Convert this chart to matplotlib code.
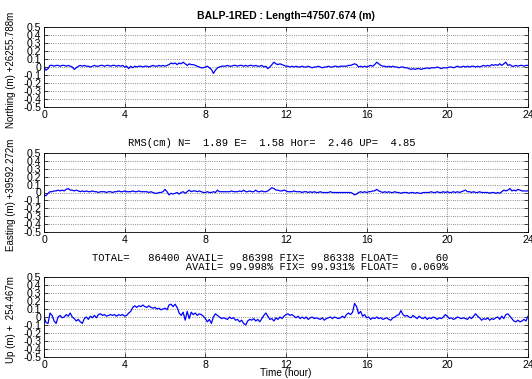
import numpy as np
import matplotlib
matplotlib.use('Agg')
import matplotlib.pyplot as plt

# Baseline solution, 24 h session sampled every 0.1 h (offsets in metres)
north = [
   0.00, -0.04, -0.02, 0.02, 0.02, 0.01, 0.02, 0.02, 0.01, 0.02,
   0.02, 0.01, 0.02, 0.01, 0.00, -0.03, -0.01, 0.01, 0.02, 0.01,
   0.02, 0.01, 0.01, 0.00, 0.01, 0.02, 0.01, 0.01, 0.02, 0.02,
   0.01, 0.02, 0.02, 0.01, 0.02, 0.02, 0.01, 0.02, 0.01, 0.02,
   0.00, 0.01, -0.02, 0.01, -0.01, 0.01, 0.00, 0.01, 0.01, 0.00,
   0.01, 0.01, 0.00, 0.01, 0.02, 0.01, 0.01, 0.02, 0.01, 0.02,
   0.01, 0.02, 0.03, 0.05, 0.04, 0.05, 0.03, 0.05, 0.04, 0.06,
   0.04, 0.02, 0.04, 0.03, 0.03, 0.02, 0.01, 0.00, -0.01, -0.01,
   0.00, 0.01, -0.01, -0.03, -0.08, -0.04, -0.01, 0.00, 0.01, 0.01,
   0.01, 0.02, 0.01, 0.01, 0.02, 0.02, 0.01, 0.02, 0.02, 0.01,
   0.02, 0.01, 0.02, 0.02, 0.01, 0.02, 0.01, 0.01, 0.02, 0.00,
   0.01, -0.02, 0.00, 0.03, 0.06, 0.04, 0.03, 0.04, 0.03, 0.02,
   0.01, 0.01, 0.00, 0.01, 0.00, 0.01, 0.00, 0.00, 0.01, 0.00,
   0.00, 0.01, 0.00, -0.01, 0.00, 0.00, 0.01, 0.00, -0.01, 0.00,
   0.00, 0.01, 0.00, 0.00, 0.01, 0.01, 0.00, 0.01, 0.01, 0.01,
   0.01, 0.02, 0.02, 0.03, 0.04, 0.03, 0.00, 0.01, 0.00, 0.01,
   0.00, 0.01, 0.02, 0.01, 0.03, 0.06, 0.04, 0.02, 0.01, 0.01,
   0.00, 0.01, 0.00, 0.01, 0.00, 0.00, -0.01, 0.00, 0.00, -0.01,
   -0.01, -0.02, -0.03, -0.02, -0.03, -0.02, -0.02, -0.03, -0.02, -0.02,
   -0.01, -0.02, -0.01, -0.01, -0.01, 0.00, -0.01, -0.02, -0.01, -0.01,
   -0.01, 0.00, 0.00, -0.01, 0.00, 0.01, 0.00, 0.00, 0.01, 0.00,
   0.01, 0.00, 0.01, 0.01, 0.00, 0.01, 0.00, 0.01, 0.02, 0.01,
   0.02, 0.01, 0.03, 0.02, 0.03, 0.02, 0.04, 0.02, 0.04, 0.06,
   0.02, 0.03, 0.01, 0.01, 0.02, 0.01, 0.02, 0.02, 0.01, 0.02,
   0.02,
]

east = [
   -0.03, -0.04, -0.01, 0.01, 0.01, 0.02, 0.02, 0.03, 0.02, 0.03,
   0.02, 0.04, 0.05, 0.03, 0.03, 0.02, 0.03, 0.02, 0.01, 0.02,
   0.01, 0.02, 0.01, 0.01, 0.02, 0.01, 0.01, 0.00, 0.01, 0.01,
   0.01, 0.00, 0.01, 0.01, 0.00, 0.01, 0.01, 0.02, 0.01, 0.01,
   0.02, 0.01, 0.01, 0.01, 0.02, 0.01, 0.01, 0.02, 0.01, 0.01,
   0.01, 0.01, 0.00, 0.01, 0.00, -0.01, -0.01, 0.00, 0.00, 0.01,
   0.04, 0.01, -0.03, -0.01, -0.02, -0.01, 0.00, -0.02, 0.00, 0.01,
   -0.01, 0.01, 0.03, 0.01, 0.02, 0.02, 0.01, 0.02, 0.01, 0.00,
   0.00, 0.01, 0.00, 0.00, 0.01, 0.00, 0.03, 0.01, 0.01, 0.01,
   0.01, 0.01, 0.01, 0.02, 0.01, 0.01, 0.01, 0.02, 0.01, 0.03,
   0.01, 0.01, 0.02, 0.01, 0.01, 0.03, 0.01, 0.01, 0.02, 0.01,
   0.01, 0.02, 0.04, 0.06, 0.05, 0.03, 0.03, 0.02, 0.02, 0.03,
   0.02, 0.01, 0.01, 0.01, 0.02, 0.01, 0.01, 0.01, 0.00, 0.01,
   0.01, 0.00, 0.01, 0.00, 0.01, 0.00, 0.00, 0.01, 0.00, 0.00,
   0.00, 0.00, 0.01, 0.00, 0.00, 0.00, 0.00, 0.00, 0.00, 0.00,
   0.00, 0.00, 0.00, -0.01, -0.03, -0.02, 0.00, 0.01, 0.00, 0.01,
   0.00, 0.01, 0.01, 0.02, 0.02, 0.04, 0.02, 0.01, 0.00, 0.01,
   0.00, 0.01, 0.00, 0.00, 0.01, 0.00, 0.00, -0.01, 0.00, 0.00,
   0.00, -0.01, 0.00, 0.00, -0.01, 0.00, -0.01, -0.01, 0.00, 0.00,
   0.00, 0.00, 0.01, 0.00, 0.00, 0.01, 0.00, 0.00, 0.01, 0.00,
   0.01, 0.00, 0.00, 0.01, 0.00, 0.01, 0.00, 0.01, 0.02, 0.03,
   0.01, 0.01, 0.00, 0.01, 0.00, 0.00, 0.01, 0.00, 0.00, 0.00,
   0.00, -0.01, 0.00, 0.00, -0.01, 0.00, -0.01, 0.01, 0.03, 0.02,
   0.03, 0.05, 0.02, 0.03, 0.02, 0.04, 0.03, 0.02, 0.02, 0.02,
   0.02,
]

up = [
   0.00, -0.07, -0.08, 0.05, 0.02, -0.05, -0.08, 0.00, 0.02, -0.01,
   0.00, 0.03, 0.01, 0.05, 0.00, -0.02, -0.05, -0.03, -0.06, -0.08,
   -0.02, 0.00, -0.03, 0.01, -0.01, 0.02, -0.01, 0.03, 0.04, 0.02,
   0.03, 0.01, 0.02, 0.03, 0.02, 0.03, 0.01, 0.03, 0.02, 0.03,
   0.01, 0.02, 0.05, 0.07, 0.12, 0.14, 0.12, 0.14, 0.13, 0.15,
   0.13, 0.12, 0.14, 0.12, 0.11, 0.12, 0.10, 0.11, 0.09, 0.10,
   0.11, 0.09, 0.15, 0.16, 0.13, 0.16, 0.12, 0.05, 0.02, 0.06,
   -0.04, 0.07, -0.02, 0.06, 0.03, 0.05, 0.02, 0.04, 0.03, 0.01,
   -0.02, -0.06, -0.03, -0.08, 0.00, 0.04, 0.02, 0.00, -0.02, -0.01,
   -0.02, -0.03, 0.00, -0.02, -0.01, -0.04, -0.03, -0.06, -0.04, -0.08,
   -0.10, -0.05, -0.03, -0.04, -0.02, -0.05, -0.03, -0.06, -0.02, 0.02,
   0.05, 0.01, -0.03, -0.02, -0.05, -0.01, -0.03, 0.00, -0.02, 0.01,
   0.03, 0.04, 0.02, 0.03, 0.01, -0.01, 0.01, -0.02, 0.00, -0.02,
   0.00, -0.03, -0.01, 0.00, -0.02, -0.01, -0.02, -0.03, -0.01, -0.04,
   -0.02, -0.01, 0.00, -0.02, 0.00, -0.01, -0.02, -0.01, 0.01, -0.01,
   0.03, 0.05, 0.03, 0.06, 0.17, 0.13, 0.04, 0.07, 0.01, 0.03,
   -0.01, 0.00, -0.03, -0.01, -0.02, 0.00, -0.02, -0.01, -0.03, -0.02,
   -0.01, -0.03, -0.04, -0.01, 0.00, 0.02, 0.03, 0.08, 0.03, 0.01,
   0.02, 0.00, -0.01, 0.02, 0.00, -0.02, 0.01, -0.01, -0.02, 0.00,
   -0.03, -0.01, -0.02, 0.00, -0.01, -0.03, -0.01, -0.02, 0.00, 0.03,
   0.01, -0.02, -0.01, -0.03, -0.02, 0.00, -0.01, -0.02, -0.01, -0.02,
   -0.03, 0.00, -0.02, 0.01, 0.04, 0.01, -0.01, -0.04, -0.02, -0.03,
   -0.01, -0.04, -0.02, -0.03, -0.01, 0.00, -0.03, 0.01, -0.02, 0.03,
   0.04, 0.01, -0.02, -0.05, -0.06, -0.04, -0.06, -0.05, -0.03, -0.05,
   0.01,
]

ylabels = ['Northing (m) +26255.788m', 'Easting (m) +39592.272m', 'Up (m) +  254.467m']
yticks = [-0.5, -0.4, -0.3, -0.2, -0.1, 0, 0.1, 0.2, 0.3, 0.4, 0.5]
ytick_labels = ['-0.5', '-0.4', '-0.3', '-0.2', '-0.1', '0', '0.1', '0.2', '0.3', '0.4', '0.5']
xticks = [0, 4, 8, 12, 16, 20, 24]

rms_names = ['N', 'E', 'Hor', 'UP']
rms_cm = [1.89, 1.58, 2.46, 4.85]
count_names = ['TOTAL', 'AVAIL', 'FIX', 'FLOAT']
counts = [86400, 86398, 86338, 60]
pct_names = ['AVAIL', 'FIX', 'FLOAT']
pcts = [99.998, 99.931, 0.069]

W, H = 532, 379
fig = plt.figure(figsize=(W / 100, H / 100), dpi=100)

# axes boxes in pixels: (left, top, right, bottom)
boxes = [(44, 27, 528, 107), (44, 153, 528, 232), (44, 277, 528, 357)]

for series, label, (l, t, r, b) in zip([north, east, up], ylabels, boxes):
   ax = fig.add_axes([l / W, 1 - b / H, (r - l) / W, (b - t) / H])
   hours = np.linspace(0, 24, len(series))
   ax.plot(hours, series, color='#0000ff', lw=0.9)
   ax.set_xlim(0, 24)
   ax.set_ylim(-0.5, 0.5)
   ax.set_xticks(xticks)
   ax.set_yticks(yticks)
   ax.set_yticklabels(ytick_labels)
   ax.tick_params(direction='in', length=3, width=0.5, labelsize=7.6, pad=2,
                  top=True, right=True)
   ax.grid(True, color='0.4', linestyle=':', linewidth=0.6)
   for s in ax.spines.values():
      s.set_linewidth(0.6)
   ax.set_ylabel(label, fontsize=7.0, family='Liberation Sans')
   ax.yaxis.set_label_coords(-0.058, 0.47)
   for t_ in ax.get_xticklabels() + ax.get_yticklabels():
      t_.set_family('Liberation Sans')

ax.set_xlabel('Time (hour)', fontsize=7.2, family='Liberation Sans', va='top')
ax.xaxis.set_label_coords(0.5, -0.135)

fig.text(286 / W, 1 - 16 / H, 'BALP-1RED : Length=47507.674 (m)', ha='center', va='center',
         fontsize=7.5, fontweight='bold', family='Liberation Sans')

mono = dict(family='Liberation Mono', fontsize=7.6, ha='left', va='center')
rms_text = 'RMS(cm) ' + ' '.join('%s=%6.2f' % (n, v) for n, v in zip(rms_names, rms_cm))
fig.text(128 / W, 1 - 143 / H, rms_text, **mono)

line1 = ' '.join('%s=%8d' % (n, v) for n, v in zip(count_names, counts))
line2 = ' ' * 15 + ' '.join('%s=%7.3f%%' % (n, v) for n, v in zip(pct_names, pcts))
fig.text(92 / W, 1 - 258 / H, line1, **mono)
fig.text(92 / W, 1 - 267 / H, line2, **mono)

fig.savefig('out.png', dpi=100)
